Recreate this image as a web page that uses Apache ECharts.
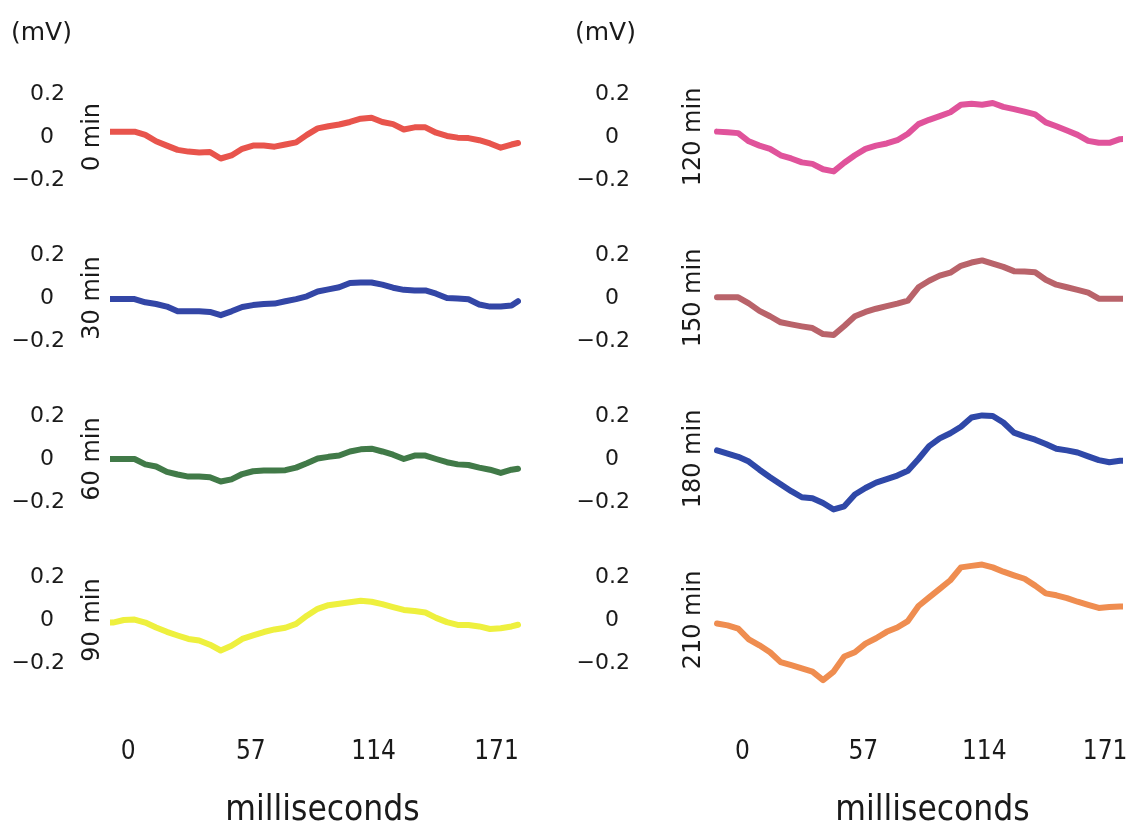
<!DOCTYPE html>
<html><head><meta charset="utf-8">
<script src="https://cdn.jsdelivr.net/npm/echarts@6/dist/echarts.min.js"></script>
<style>html,body{margin:0;padding:0;background:#fff}#c{width:1129px;height:837px}</style>
</head><body><div id="c"></div>
<script>
// sample times (ms)
const timeMs = [-12,-7,-2,3,8,13,18,23,28,33,38,43,48,53,58,63,68,73,78,83,88,93,98,103,108,113,118,123,128,133,138,143,148,153,158,163,168,173,178,181];
const panelLabels = ['0 min','30 min','60 min','90 min','120 min','150 min','180 min','210 min'];
// values (mV)
const mv0   = [0.025,0.025,0.025,0.025,0.01,-0.02,-0.04,-0.06,-0.068,-0.072,-0.07,-0.10,-0.086,-0.055,-0.04,-0.04,-0.045,-0.035,-0.025,0.01,0.04,0.05,0.058,0.07,0.085,0.09,0.07,0.06,0.035,0.045,0.045,0.02,0.005,-0.003,-0.005,-0.015,-0.03,-0.05,-0.035,-0.028];
const mv30  = [-0.005,-0.005,-0.005,-0.005,-0.02,-0.028,-0.04,-0.062,-0.062,-0.062,-0.065,-0.08,-0.062,-0.042,-0.033,-0.028,-0.026,-0.015,-0.005,0.008,0.03,0.04,0.05,0.07,0.072,0.072,0.062,0.048,0.038,0.035,0.035,0.02,0.0,-0.002,-0.006,-0.03,-0.04,-0.04,-0.035,-0.015];
const mv60  = [0,0,0,0,-0.025,-0.035,-0.06,-0.072,-0.082,-0.082,-0.085,-0.105,-0.095,-0.07,-0.057,-0.054,-0.053,-0.052,-0.04,-0.02,0.002,0.01,0.016,0.035,0.045,0.048,0.035,0.02,0.0,0.016,0.016,0.0,-0.015,-0.025,-0.028,-0.04,-0.05,-0.065,-0.05,-0.045];
const mv90  = [-0.012,-0.012,0.0,0.002,-0.012,-0.035,-0.055,-0.072,-0.088,-0.095,-0.115,-0.142,-0.12,-0.088,-0.072,-0.056,-0.044,-0.036,-0.018,0.02,0.052,0.069,0.076,0.083,0.09,0.085,0.074,0.06,0.047,0.042,0.035,0.01,-0.01,-0.023,-0.023,-0.03,-0.042,-0.038,-0.03,-0.022];
const mv120 = [0.025,0.022,0.018,-0.02,-0.04,-0.055,-0.085,-0.1,-0.118,-0.125,-0.15,-0.16,-0.12,-0.085,-0.055,-0.04,-0.03,-0.015,0.015,0.06,0.08,0.097,0.115,0.15,0.155,0.15,0.158,0.14,0.13,0.118,0.105,0.068,0.05,0.03,0.01,-0.018,-0.027,-0.027,-0.01,-0.008];
const mv150 = [0.003,0.003,0.003,-0.025,-0.06,-0.085,-0.113,-0.123,-0.132,-0.14,-0.168,-0.172,-0.13,-0.085,-0.065,-0.05,-0.038,-0.026,-0.012,0.05,0.08,0.104,0.118,0.15,0.165,0.175,0.16,0.145,0.125,0.123,0.12,0.085,0.062,0.05,0.038,0.025,-0.003,-0.003,-0.003,-0.003];
const mv180 = [0.04,0.025,0.01,-0.012,-0.05,-0.085,-0.118,-0.15,-0.178,-0.183,-0.205,-0.235,-0.22,-0.165,-0.135,-0.11,-0.094,-0.077,-0.055,0.0,0.06,0.096,0.12,0.15,0.193,0.203,0.2,0.17,0.123,0.105,0.09,0.07,0.048,0.04,0.03,0.012,-0.005,-0.015,-0.008,-0.008];
const mv210 = [-0.016,-0.025,-0.04,-0.09,-0.118,-0.15,-0.196,-0.21,-0.225,-0.24,-0.28,-0.24,-0.17,-0.15,-0.11,-0.085,-0.055,-0.035,-0.005,0.065,0.105,0.145,0.185,0.245,0.252,0.258,0.245,0.225,0.208,0.192,0.16,0.124,0.115,0.102,0.085,0.07,0.056,0.06,0.063,0.063];
const yTicks = [-0.2, 0, 0.2];
const xTicks = [0, 57, 114, 171];
const unitLabel = '(mV)';
const xTitle = 'milliseconds';

const allValues = [mv0, mv30, mv60, mv90, mv120, mv150, mv180, mv210];
const colors = ['#e8544c','#3346a6','#417a48','#eef03e','#e0539b','#b9636a','#2f48a8','#ef8d50'];

const TXT = '#1a1a1a';
const NARROW = "'Liberation Sans Narrow','DejaVu Sans Condensed','Arial Narrow',sans-serif";
const cols = [
  {left:113, width:405, min:-7, max:181, labelMargin:48, nameGap:8, titlePad:14},
  {left:717, width:403, min:-12, max:178, labelMargin:87, nameGap:11, titlePad:28}
];
const rowTops = [57.5, 218.5, 379.5, 540.5];
const H = 159;

const grid = [], xAxis = [], yAxis = [], series = [];
for (let c = 0; c < 2; c++) {
  for (let r = 0; r < 4; r++) {
    const i = c * 4 + r;
    const col = cols[c];
    grid.push({left: col.left, top: rowTops[r], width: col.width, height: H, containLabel: false, outerBoundsMode: 'none'});
    const bottom = r === 3;
    xAxis.push({
      type: 'value', gridIndex: i, min: col.min, max: col.max,
      axisLine: {show: false, onZero: false}, axisTick: {show: false}, splitLine: {show: false},
      axisLabel: {show: bottom, customValues: xTicks, margin: 40, fontFamily: NARROW, fontSize: 26, color: TXT},
      name: bottom ? xTitle : '', nameLocation: 'middle', nameGap: 94, nameMoveOverlap: false,
      nameTextStyle: {fontFamily: NARROW, fontSize: 35, color: TXT, padding: [0, 0, 0, col.titlePad]}
    });
    yAxis.push({
      type: 'value', gridIndex: i, min: -0.37, max: 0.37,
      axisLine: {show: false, onZero: false}, axisTick: {show: false}, splitLine: {show: false},
      axisLabel: {
        customValues: yTicks, margin: col.labelMargin, align: 'right',
        fontFamily: 'DejaVu Sans', fontSize: 22, color: TXT,
        formatter: v => v === 0 ? '{z|0}' : '{n|' + (v < 0 ? '\u2212' : '') + Math.abs(v) + '}',
        rich: {
          z: {fontFamily: 'DejaVu Sans', fontSize: 22, color: TXT, padding: [0, 11, 0, 0]},
          n: {fontFamily: 'DejaVu Sans', fontSize: 22, color: TXT}
        }
      },
      name: panelLabels[i], nameLocation: 'middle', nameRotate: 90, nameGap: col.nameGap, nameMoveOverlap: false,
      nameTextStyle: {fontFamily: 'DejaVu Sans', fontSize: 24, color: TXT}
    });
    series.push({
      type: 'line', xAxisIndex: i, yAxisIndex: i, showSymbol: false, animation: false,
      data: timeMs.map((t, k) => [t, allValues[i][k]]),
      lineStyle: {color: colors[i], width: 6, cap: 'round', join: 'round'},
      itemStyle: {color: colors[i]}
    });
  }
}

const chart = echarts.init(document.getElementById('c'));
chart.setOption({
  backgroundColor: '#fff',
  animation: false,
  grid, xAxis, yAxis, series,
  graphic: [
    {type: 'text', left: 11, top: 21, style: {text: unitLabel, font: '25px "DejaVu Sans"', fill: TXT}},
    {type: 'text', left: 575, top: 21, style: {text: unitLabel, font: '25px "DejaVu Sans"', fill: TXT}}
  ]
});
</script></body></html>
